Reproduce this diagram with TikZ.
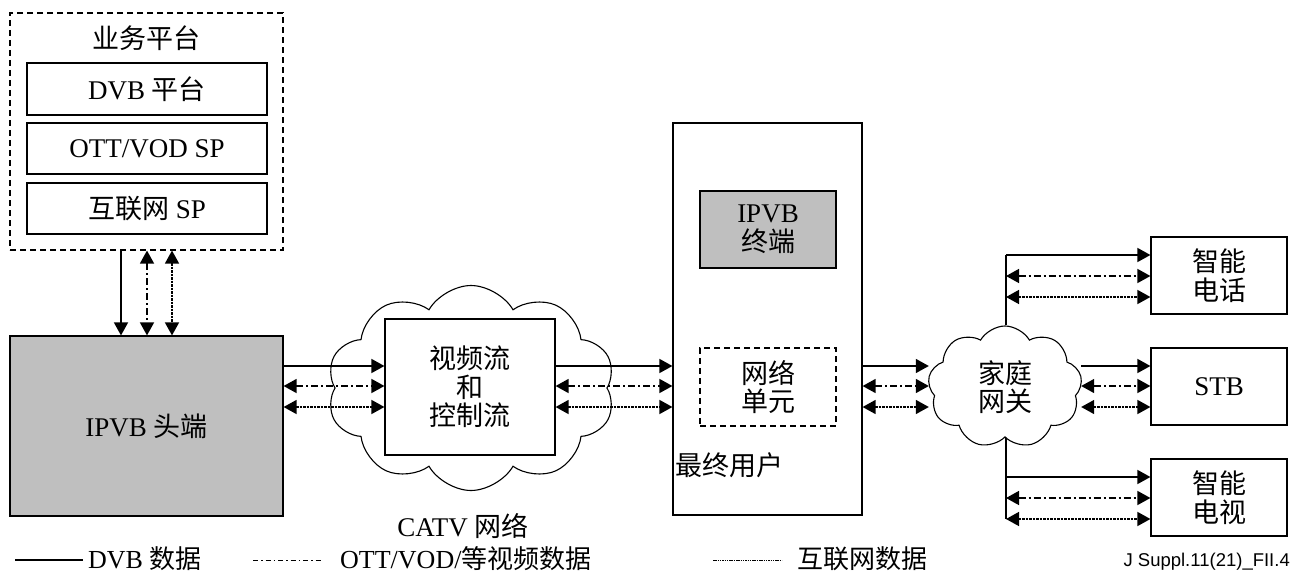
\documentclass[tikz,border=0pt]{standalone}
\usepackage{fontspec}
\setmainfont{Liberation Serif}
\newfontfamily\cjk{Noto Sans CJK SC}
\newfontfamily\arialf{Liberation Sans}
\newcommand{\zh}[1]{{\cjk #1}}
\usetikzlibrary{shapes.symbols,arrows.meta}
\begin{document}
\begin{tikzpicture}[x=1pt,y=-1pt,
  every node/.style={font=\fontsize{27pt}{28.5pt}\selectfont, align=center, inner sep=0pt},
  box/.style={draw, line width=1.2pt},
  graybox/.style={box, fill=black!25},
  dbox/.style={draw, line width=1.2pt, dash pattern=on 6pt off 4pt},
  cloudn/.style={draw, cloud, cloud puffs=10, cloud puff arc=120, line width=1.1pt, aspect=1.4},
  tip/.style={-{Triangle[length=13pt,width=14pt]}},
  dtip/.style={{Triangle[length=13pt,width=14pt]}-{Triangle[length=13pt,width=14pt]}},
  sline/.style={line width=1.5pt},
  dline/.style={line width=1.5pt, dash pattern=on 7pt off 3pt on 2pt off 3pt},
  oline/.style={line width=1.5pt, dash pattern=on 2.5pt off 1pt},
  legtext/.style={anchor=west, font=\fontsize{26pt}{27pt}\selectfont}
]
\useasboundingbox (0,0) rectangle (1303,575);

% service platform
\node[dbox, minimum width=273pt, minimum height=237pt] (plat) at (146.5,131.5) {};
\node (plattitle) at (146.5,38) {\zh{业务平台}};
\node[box, minimum width=240pt, minimum height=52pt] (dvb) at (147,89) {DVB \zh{平台}};
\node[box, minimum width=240pt, minimum height=51pt] (ott) at (147,148.5) {OTT/VOD SP};
\node[box, minimum width=240pt, minimum height=51pt] (inet) at (147,208.5) {\zh{互联网} SP};

% headend
\node[graybox, minimum width=273pt, minimum height=180pt] (head) at (146.5,426) {IPVB \zh{头端}};

\draw[sline,tip] (plat.south -| 121,0) -- (head.north -| 121,0);
\draw[dline,dtip] (plat.south -| 147,0) -- (head.north -| 147,0);
\draw[oline,dtip] (plat.south -| 172,0) -- (head.north -| 172,0);

% CATV cloud
\node[cloudn, minimum width=288pt, minimum height=205pt] (catv) at (471,388) {};
\node[box, fill=white, minimum width=170pt, minimum height=136pt] (video) at (470,387) {\zh{视频流}\\\zh{和}\\\zh{控制流}};
\node (catvlbl) at (463,526) {CATV \zh{网络}};

\draw[sline,tip] (head.east |- 0,366) -- (video.west |- 0,366);
\draw[dline,dtip] (head.east |- 0,386) -- (video.west |- 0,386);
\draw[oline,dtip] (head.east |- 0,407) -- (video.west |- 0,407);

% end user
\node[box, minimum width=189pt, minimum height=392pt] (user) at (767.5,319) {};
\node[graybox, minimum width=136pt, minimum height=77pt] (term) at (768,229.5) {IPVB\\\zh{终端}};
\node[dbox, minimum width=136pt, minimum height=78pt] (netu) at (768,387) {\zh{网络}\\\zh{单元}};
\node[anchor=west] (userlbl) at (675,465) {\zh{最终用户}};

\draw[sline,tip] (video.east |- 0,366) -- (user.west |- 0,366);
\draw[dline,dtip] (video.east |- 0,386) -- (user.west |- 0,386);
\draw[oline,dtip] (video.east |- 0,407) -- (user.west |- 0,407);

% home gateway
\node[cloudn, cloud puffs=9, minimum width=154pt, minimum height=122pt] (hg) at (1005,387) {\zh{家庭}\\\zh{网关}};

\draw[sline,tip] (user.east |- 0,366) -- (hg.west |- 0,366);
\draw[dline,dtip] (user.east |- 0,386) -- (hg.west |- 0,386);
\draw[oline,dtip] (user.east |- 0,407) -- (hg.west |- 0,407);

% devices
\node[box, minimum width=136pt, minimum height=77pt] (phone) at (1219,275.5) {\zh{智能}\\\zh{电话}};
\node[box, minimum width=136pt, minimum height=77pt] (stb) at (1219,386.5) {STB};
\node[box, minimum width=136pt, minimum height=77pt] (tv) at (1219,497.5) {\zh{智能}\\\zh{电视}};

\coordinate (bt) at (1006,255);
\coordinate (bb) at (1006,519);
\draw[line width=1.3pt] (hg.north -| bt) -- (bt);
\draw[line width=1.3pt] (hg.south -| bb) -- (bb);

\draw[sline,tip] (bt) -- (phone.west |- bt);
\draw[dline,dtip] (bt |- 0,276) -- (phone.west |- 0,276);
\draw[oline,dtip] (bt |- 0,297) -- (phone.west |- 0,297);

\draw[sline,tip] (hg.east |- 0,366) -- (stb.west |- 0,366);
\draw[dline,dtip] (hg.east |- 0,386) -- (stb.west |- 0,386);
\draw[oline,dtip] (hg.east |- 0,407) -- (stb.west |- 0,407);

\draw[sline,tip] (bt |- 0,477) -- (tv.west |- 0,477);
\draw[dline,dtip] (bt |- 0,498) -- (tv.west |- 0,498);
\draw[oline,dtip] (bb) -- (tv.west |- bb);

% legend
\coordinate (l1a) at (15,560); \coordinate (l1b) at (83,560);
\draw[line width=1.2pt] (l1a) -- (l1b);
\node[legtext] (lg1) at (88,559) {DVB \zh{数据}};
\coordinate (l2a) at (253,560); \coordinate (l2b) at (322,560);
\draw[line width=1pt, dash pattern=on 5pt off 3pt on 1.5pt off 3pt] (l2a) -- (l2b);
\node[legtext] (lg2) at (340,559) {OTT/VOD/\zh{等视频数据}};
\coordinate (l3a) at (713,560); \coordinate (l3b) at (782,560);
\draw[line width=1pt, dash pattern=on 1.5pt off 0.8pt] (l3a) -- (l3b);
\node[legtext] (lg3) at (797,559) {\zh{互联网数据}};
\node[anchor=east, font=\arialf\fontsize{18.5pt}{20pt}\selectfont] (fig) at (1290,562) {J Suppl.11(21)\_FII.4};
\end{tikzpicture}
\end{document}
